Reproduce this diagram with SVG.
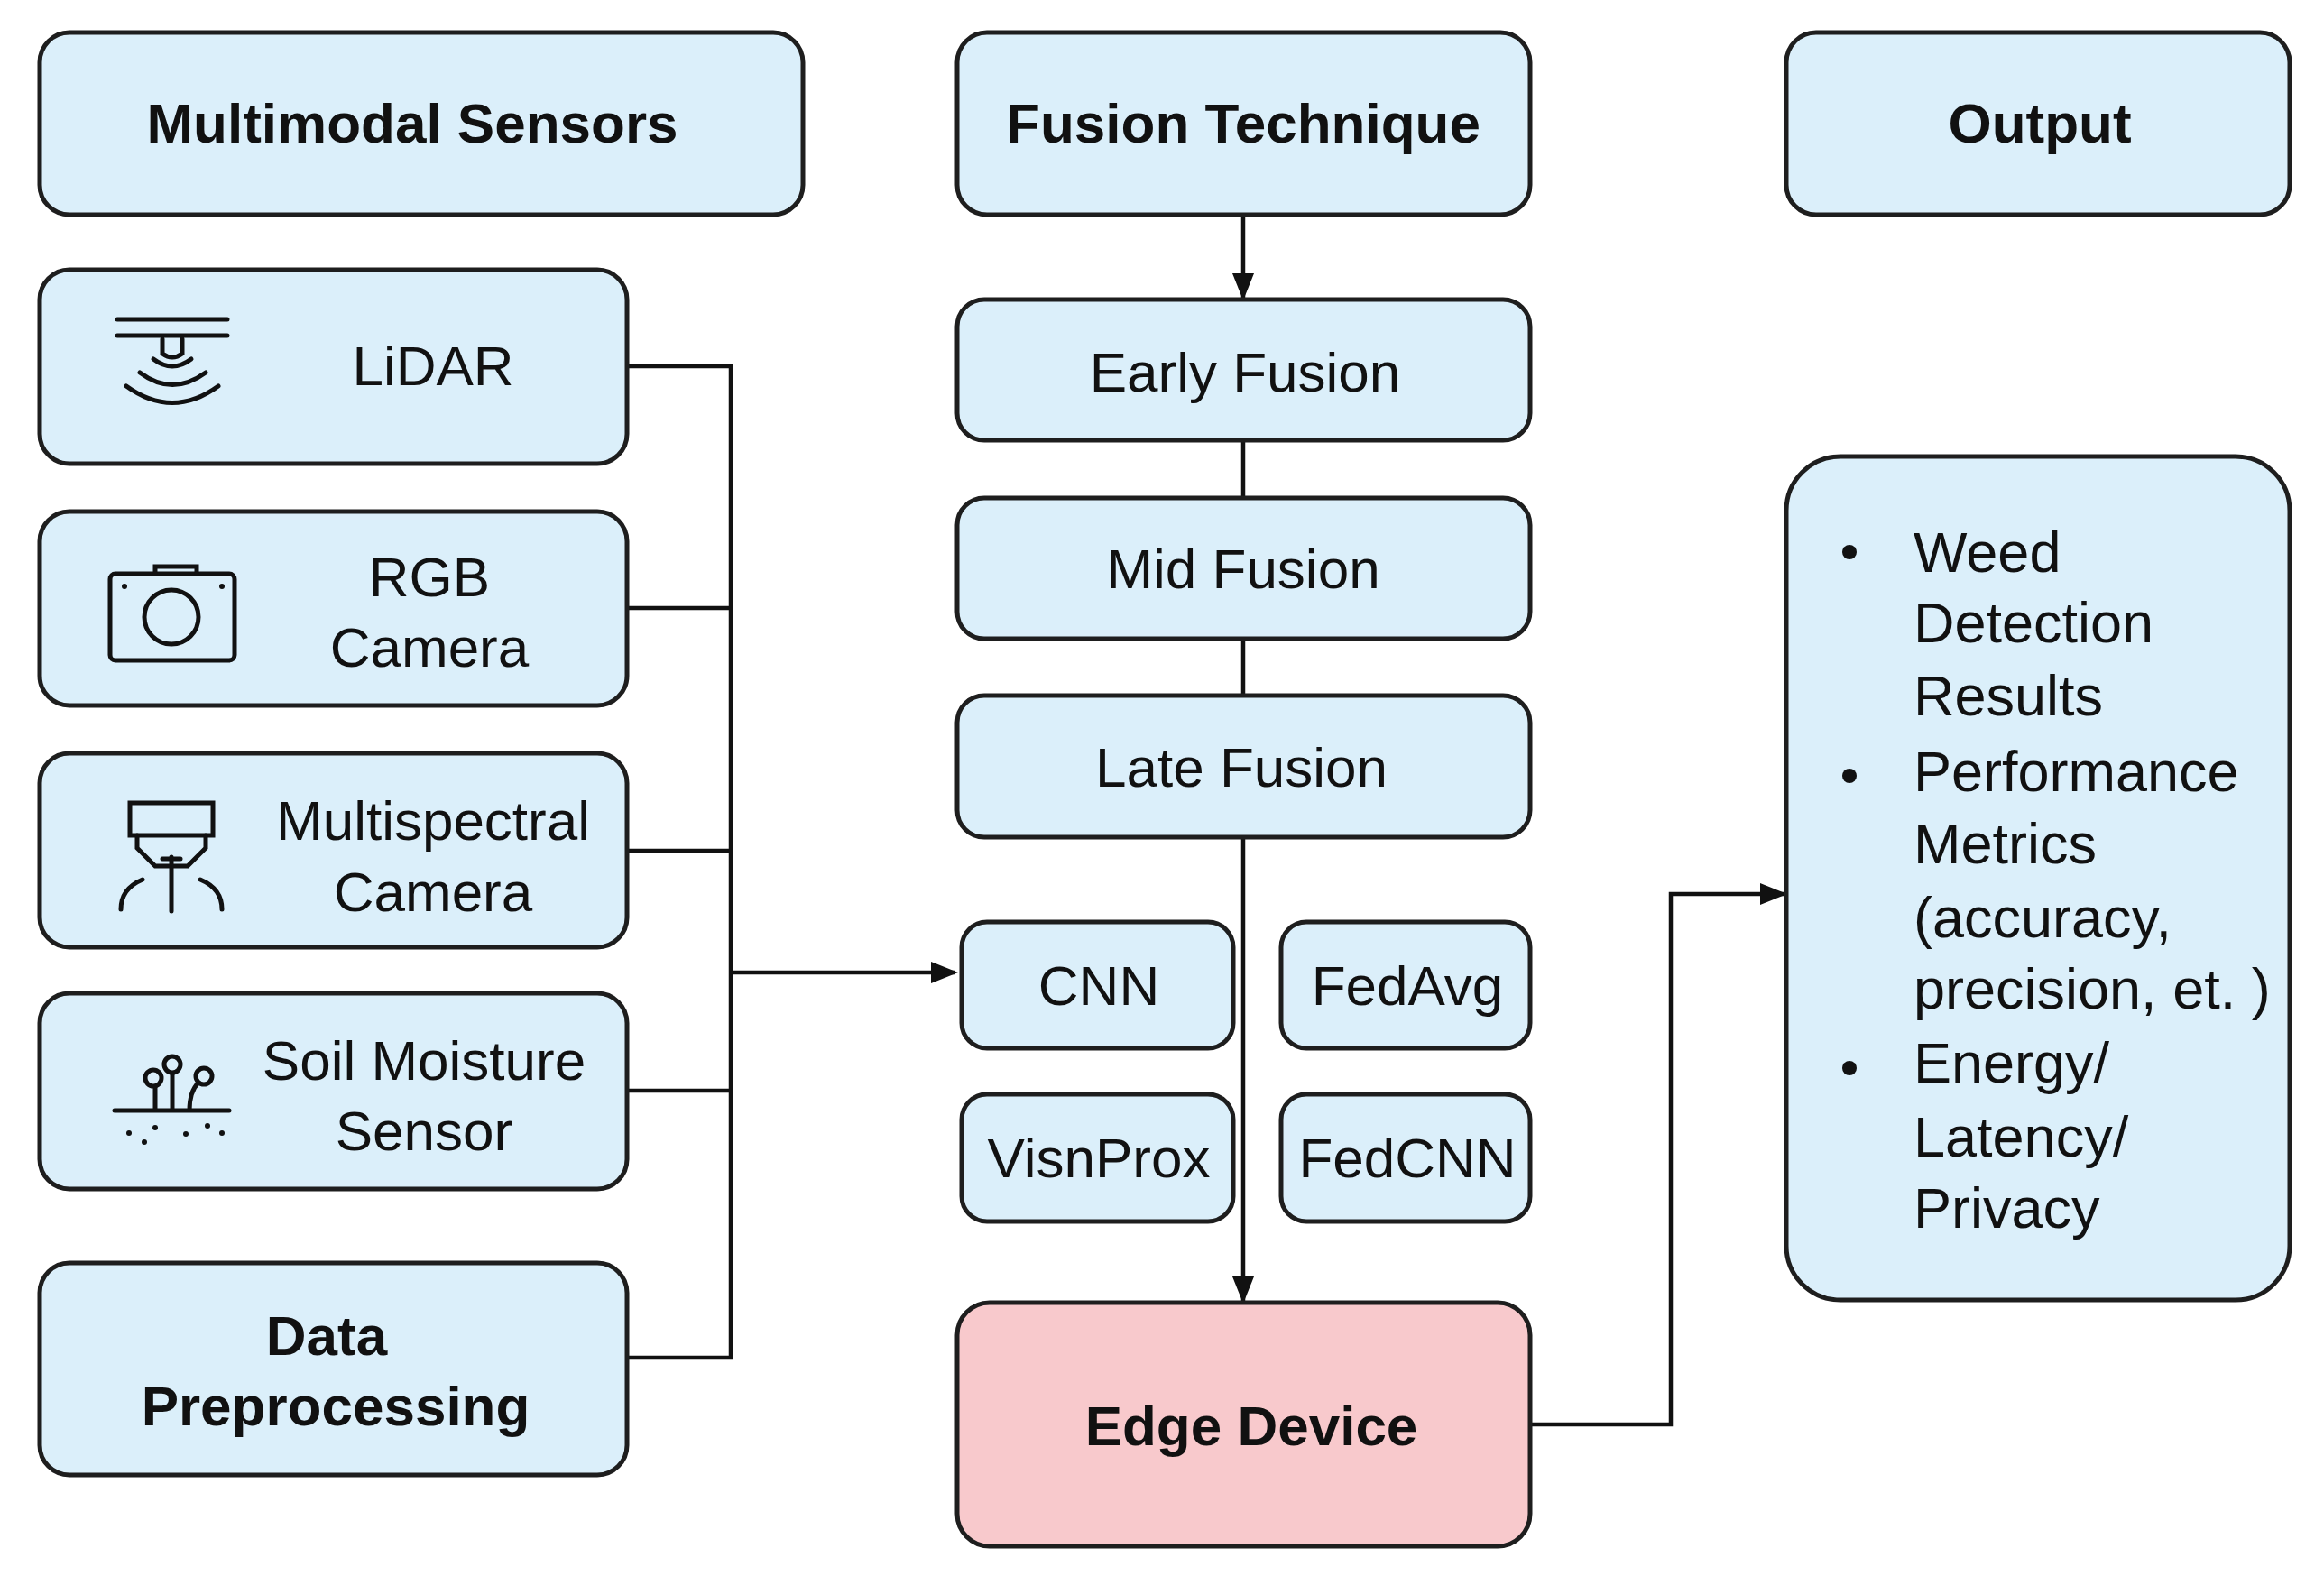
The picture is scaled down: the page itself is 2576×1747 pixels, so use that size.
<svg xmlns="http://www.w3.org/2000/svg" width="2576" height="1747" viewBox="0 0 2576 1747">
<style>
.b{fill:#dbeffa;stroke:#1e1e1e;stroke-width:5}
.t{font-family:"Liberation Sans",Arial,sans-serif;font-size:62px;fill:#111;text-anchor:middle}
.h{font-weight:bold}
.l{fill:none;stroke:#111;stroke-width:4.5}
.i{fill:none;stroke:#111;stroke-width:5;stroke-linecap:round}
.lt{font-family:"Liberation Sans",Arial,sans-serif;font-size:63px;fill:#111}
</style>
<defs>
<marker id="m" viewBox="0 0 10 10" refX="9" refY="5" markerWidth="30" markerHeight="30" orient="auto" markerUnits="userSpaceOnUse"><path d="M0,1L10,5L0,9z" fill="#111"/></marker></defs>
<rect width="2576" height="1747" fill="#fff"/>
<g id="edges">
<path class="l" d="M695,406H810V1505H695M695,674H810M695,943H810M695,1209H810"/>
<path class="l" d="M810,1078H1059" marker-end="url(#m)"/>
<path class="l" d="M1378,238V330" marker-end="url(#m)"/>
<path class="l" d="M1378,488V552M1378,708V771"/>
<path class="l" d="M1378,928V1442" marker-end="url(#m)"/>
<path class="l" d="M1696,1579H1852V991H1978" marker-end="url(#m)"/>
</g>
<g id="hdr1"><rect class="b" x="44" y="36" width="846" height="202" rx="33"/><text class="t h" x="457" y="158">Multimodal Sensors</text></g>
<g id="hdr2"><rect class="b" x="1061" y="36" width="635" height="202" rx="33"/><text class="t h" x="1378" y="158">Fusion Technique</text></g>
<g id="hdr3"><rect class="b" x="1980" y="36" width="558" height="202" rx="33"/><text class="t h" x="2261" y="158">Output</text></g>
<g id="lidar"><rect class="b" x="44" y="299" width="651" height="215" rx="33"/><text class="t" x="480" y="427">LiDAR</text>
<path class="i" d="M130,354H252M130,372H252M180,376V392Q191,400 202,392V376M170,398Q191,414 212,398M155,413Q191,440 228,413M140,428Q191,465 242,428"/></g>
<g id="rgb"><rect class="b" x="44" y="567" width="651" height="215" rx="33"/><text class="t" x="476" y="661">RGB</text><text class="t" x="476" y="739">Camera</text>
<rect class="i" x="122" y="636" width="138" height="96" rx="6"/><path class="i" d="M172,636V628H218V636"/><circle class="i" cx="190" cy="684" r="30"/><circle cx="138" cy="650" r="3" fill="#111"/><circle cx="246" cy="650" r="3" fill="#111"/></g>
<g id="ms"><rect class="b" x="44" y="835" width="651" height="215" rx="33"/><text class="t" x="480" y="931">Multispectral</text><text class="t" x="480" y="1010">Camera</text>
<rect class="i" x="144" y="890" width="92" height="36"/><path class="i" d="M152,926V940L172,960H208L228,940V926M190,950V1010M180,952H200M134,1008Q134,985 158,975M246,1008Q246,985 222,975"/></g>
<g id="soil"><rect class="b" x="44" y="1101" width="651" height="217" rx="33"/><text class="t" x="470" y="1197">Soil Moisture</text><text class="t" x="470" y="1275">Sensor</text>
<path class="i" d="M127,1231H254M191,1231V1190M172,1231V1205M210,1231Q210,1210 220,1200"/><circle class="i" cx="191" cy="1180" r="9"/><circle class="i" cx="170" cy="1195" r="9"/><circle class="i" cx="226" cy="1193" r="9"/>
<g fill="#111"><circle cx="143" cy="1256" r="3"/><circle cx="172" cy="1250" r="3"/><circle cx="206" cy="1257" r="3"/><circle cx="230" cy="1248" r="3"/><circle cx="246" cy="1256" r="3"/><circle cx="160" cy="1266" r="3"/></g></g>
<g id="prep"><rect class="b" x="44" y="1400" width="651" height="235" rx="33"/><text class="t h" x="362" y="1502">Data</text><text class="t h" x="372" y="1580">Preprocessing</text></g>
<g id="early"><rect class="b" x="1061" y="332" width="635" height="156" rx="30"/><text class="t" x="1380" y="434">Early Fusion</text></g>
<g id="mid"><rect class="b" x="1061" y="552" width="635" height="156" rx="30"/><text class="t" x="1378" y="652">Mid Fusion</text></g>
<g id="late"><rect class="b" x="1061" y="771" width="635" height="157" rx="30"/><text class="t" x="1376" y="872">Late Fusion</text></g>
<g id="cnn"><rect class="b" x="1066" y="1022" width="301" height="140" rx="28"/><text class="t" x="1218" y="1114">CNN</text></g>
<g id="fedavg"><rect class="b" x="1420" y="1022" width="276" height="140" rx="28"/><text class="t" x="1560" y="1114">FedAvg</text></g>
<g id="visn"><rect class="b" x="1066" y="1213" width="301" height="141" rx="28"/><text class="t" x="1218" y="1305">VisnProx</text></g>
<g id="fedcnn"><rect class="b" x="1420" y="1213" width="276" height="141" rx="28"/><text class="t" x="1560" y="1305">FedCNN</text></g>
<g id="edge"><rect x="1061" y="1444" width="635" height="270" rx="36" fill="#f8c9cc" stroke="#1e1e1e" stroke-width="5"/><text class="t h" x="1387" y="1602">Edge Device</text></g>
<g id="out"><rect class="b" x="1980" y="506" width="558" height="935" rx="60"/>
<g fill="#111"><circle cx="2050" cy="612" r="8"/><circle cx="2050" cy="860" r="8"/><circle cx="2050" cy="1184" r="8"/></g>
<text class="lt" x="2121" y="634">Weed</text><text class="lt" x="2121" y="712">Detection</text><text class="lt" x="2121" y="793">Results</text>
<text class="lt" x="2121" y="877">Performance</text><text class="lt" x="2121" y="957">Metrics</text><text class="lt" x="2121" y="1039">(accuracy,</text><text class="lt" x="2121" y="1118">precision, et. )</text>
<text class="lt" x="2121" y="1200">Energy/</text><text class="lt" x="2121" y="1282">Latency/</text><text class="lt" x="2121" y="1361">Privacy</text></g>
</svg>
